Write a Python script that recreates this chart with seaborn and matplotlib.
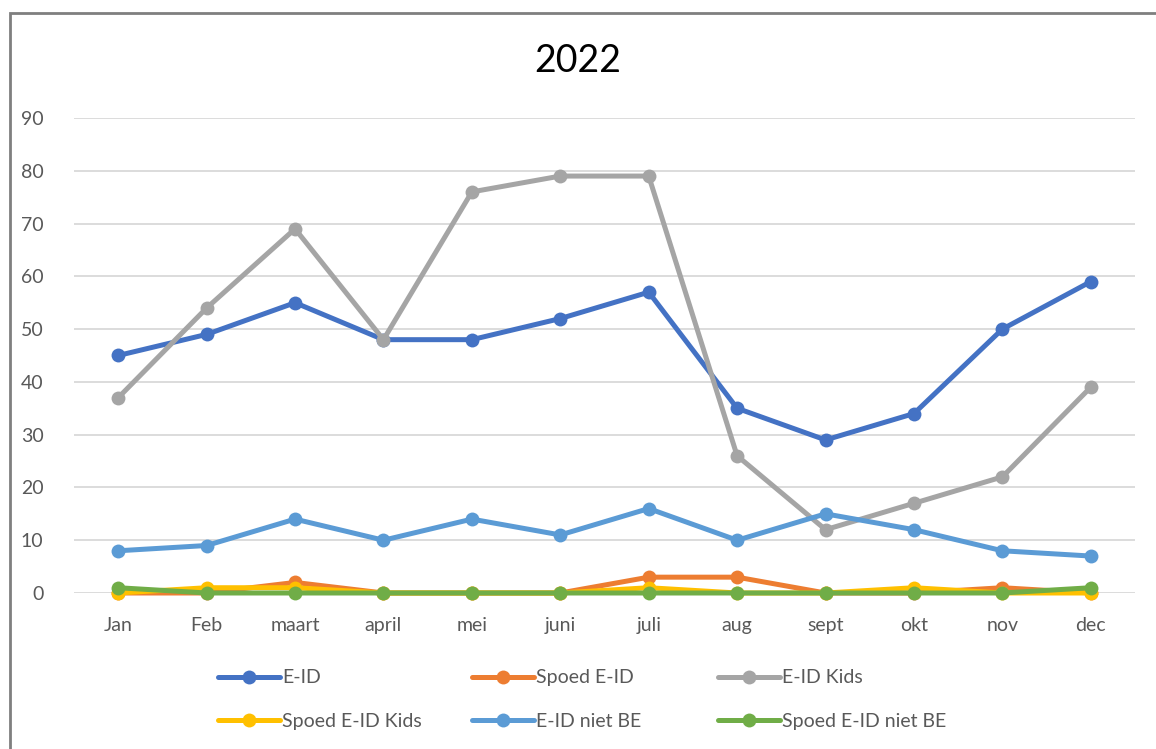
import matplotlib
matplotlib.use("Agg")
import matplotlib.pyplot as plt
import seaborn as sns
import pandas as pd
from matplotlib.patches import Rectangle

months = ["Jan", "Feb", "maart", "april", "mei", "juni", "juli", "aug", "sept", "okt", "nov", "dec"]
e_id = [45, 49, 55, 48, 48, 52, 57, 35, 29, 34, 50, 59]
spoed_e_id = [0, 0, 2, 0, 0, 0, 3, 3, 0, 0, 1, 0]
e_id_kids = [37, 54, 69, 48, 76, 79, 79, 26, 12, 17, 22, 39]
spoed_e_id_kids = [0, 1, 1, 0, 0, 0, 1, 0, 0, 1, 0, 0]
e_id_niet_be = [8, 9, 14, 10, 14, 11, 16, 10, 15, 12, 8, 7]
spoed_e_id_niet_be = [1, 0, 0, 0, 0, 0, 0, 0, 0, 0, 0, 1]

series_names = ["E-ID", "Spoed E-ID", "E-ID Kids", "Spoed E-ID Kids", "E-ID niet BE", "Spoed E-ID niet BE"]
series_values = [e_id, spoed_e_id, e_id_kids, spoed_e_id_kids, e_id_niet_be, spoed_e_id_niet_be]
colors = ["#4472C4", "#ED7D31", "#A5A5A5", "#FFC000", "#5B9BD5", "#70AD47"]

rows = []
for name, vals in zip(series_names, series_values):
    for i, (m, v) in enumerate(zip(months, vals)):
        rows.append({"month": m, "idx": i, "value": v, "series": name})
df = pd.DataFrame(rows)

sns.set_style("white")
plt.rcParams["font.family"] = ["Lato", "DejaVu Sans"]

fig = plt.figure(figsize=(11.56, 7.49), dpi=100)
ax = fig.add_axes([74 / 1156, 1 - 593 / 749, (1135 - 74) / 1156, (593 - 118) / 749])

sns.lineplot(data=df, x="idx", y="value", hue="series", hue_order=series_names,
             palette=colors, marker="o", markersize=10, linewidth=3.6,
             markeredgewidth=0, ax=ax, legend=True, sort=False)
for ln in ax.lines:
    ln.set_clip_on(False)

ax.set_xlim(-0.5, 11.5)
ax.set_ylim(0, 90)
ax.set_yticks(range(0, 91, 10))
ax.set_xticks(range(12))
ax.set_xticklabels(months)
ax.set_xlabel("")
ax.set_ylabel("")
for s in ax.spines.values():
    s.set_visible(False)
ax.grid(axis="y", color="#D9D9D9", linewidth=1.3)
ax.set_axisbelow(True)
ax.tick_params(axis="both", length=0, labelsize=14, colors="#595959")
ax.tick_params(axis="x", pad=17)
ax.tick_params(axis="y", pad=22)

handles, labels = ax.get_legend_handles_labels()
ax.get_legend().remove()
# three legend columns, each holding two rows (row-major order as in the original)
col_x = [218 / 1156, 472 / 1156, 718 / 1156]
for c in range(3):
    idx = [c, c + 3]
    leg = fig.legend([handles[i] for i in idx], [labels[i] for i in idx], ncol=1,
                     loc="center left", bbox_to_anchor=(col_x[c], 0.066),
                     frameon=False, fontsize=14, labelcolor="#595959", handlelength=3.2,
                     handletextpad=0.1, labelspacing=1.35, borderpad=0, borderaxespad=0)

fig.text(0.5, 1 - 61 / 749, "2022", ha="center", va="center", fontsize=27, color="#000000")

fig.patches.append(Rectangle((10 / 1156, -0.05), 1.2, 1 - 13 / 749 + 0.05,
                             transform=fig.transFigure, fill=False,
                             edgecolor="#7F7F7F", linewidth=2))

fig.savefig("out.png", dpi=100)
